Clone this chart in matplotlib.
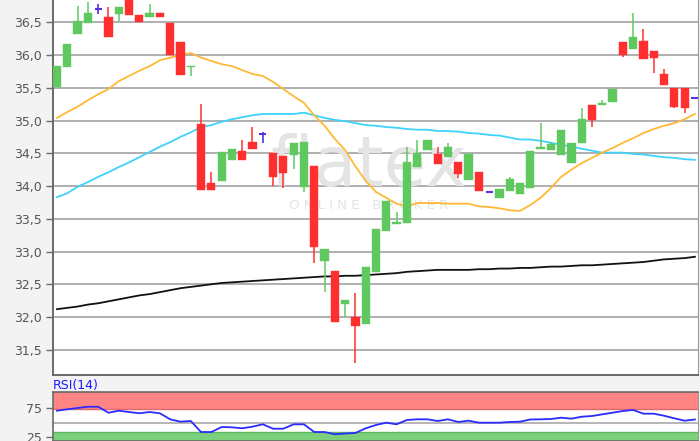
import numpy as np
import matplotlib
matplotlib.use("Agg")
import matplotlib.pyplot as plt


# ─────────────────────────────────────────────────────────────────────────────
#  DATA
# ─────────────────────────────────────────────────────────────────────────────

opens = [35.51, 35.82, 36.32, 36.49, 36.71, 36.58, 36.63, 36.90, 36.61, 36.58,
         36.64, 36.49, 36.20, 35.81, 34.95, 34.05, 34.08, 34.40, 34.53, 34.67,
         34.79, 34.50, 34.46, 34.47, 33.99, 34.30, 32.86, 32.70, 32.20, 32.00,
         31.89, 32.68, 33.32, 33.42, 33.43, 34.29, 34.55, 34.49, 34.44, 34.37,
         34.09, 34.21, 33.91, 33.82, 33.92, 33.88, 33.97, 34.57, 34.55, 34.47,
         34.35, 34.66, 35.24, 35.24, 35.28, 36.20, 36.09, 36.22, 36.06, 35.71,
         35.50, 35.50, 35.35]
highs = [35.83, 36.17, 36.75, 36.81, 36.78, 36.73, 36.73, 36.95, 36.61, 36.78,
         36.64, 36.49, 36.20, 35.82, 35.25, 34.22, 34.52, 34.57, 34.70, 34.90,
         34.83, 34.50, 34.46, 34.66, 34.67, 34.30, 33.04, 32.70, 32.26, 32.36,
         32.77, 33.35, 33.77, 33.60, 34.60, 34.70, 34.70, 34.60, 34.66, 34.37,
         34.49, 34.21, 33.91, 33.95, 34.14, 34.05, 34.54, 34.96, 34.67, 34.85,
         34.66, 35.19, 35.24, 35.31, 35.48, 36.20, 36.64, 36.40, 36.06, 35.79,
         35.50, 35.50, 35.35]
lows = [35.51, 35.82, 36.32, 36.49, 36.63, 36.28, 36.52, 36.61, 36.50, 36.58,
        36.58, 36.00, 35.70, 35.68, 33.94, 33.94, 34.08, 34.40, 34.40, 34.57,
        34.66, 34.00, 33.97, 34.26, 33.91, 32.83, 32.38, 31.92, 32.00, 31.30,
        31.89, 32.68, 33.32, 33.42, 33.43, 34.29, 34.55, 34.34, 34.44, 34.12,
        34.09, 33.92, 33.91, 33.82, 33.92, 33.88, 33.97, 34.57, 34.55, 34.47,
        34.35, 34.66, 34.90, 35.24, 35.28, 35.97, 36.09, 35.94, 35.72, 35.54,
        35.19, 35.11, 35.35]
closes = [35.83, 36.17, 36.52, 36.64, 36.71, 36.28, 36.73, 36.61, 36.50, 36.64,
          36.58, 36.00, 35.70, 35.82, 33.94, 33.94, 34.52, 34.57, 34.40, 34.57,
          34.79, 34.14, 34.20, 34.66, 34.67, 33.07, 33.04, 31.92, 32.26, 31.86,
          32.77, 33.35, 33.77, 33.44, 34.37, 34.50, 34.70, 34.34, 34.60, 34.18,
          34.49, 33.92, 33.91, 33.95, 34.11, 34.05, 34.54, 34.60, 34.64, 34.85,
          34.66, 35.02, 35.01, 35.27, 35.48, 36.00, 36.28, 35.94, 35.95, 35.54,
          35.21, 35.19, 35.35]

ma_short = [35.04, 35.13, 35.21, 35.31, 35.40, 35.48, 35.60, 35.68, 35.76, 35.83,
            35.92, 35.96, 36.00, 36.03, 35.96, 35.91, 35.86, 35.83, 35.77, 35.71,
            35.68, 35.59, 35.48, 35.37, 35.27, 35.08, 34.92, 34.72, 34.55, 34.30,
            34.08, 33.91, 33.82, 33.73, 33.69, 33.74, 33.74, 33.74, 33.73, 33.73,
            33.73, 33.69, 33.68, 33.66, 33.63, 33.62, 33.71, 33.82, 33.97, 34.14,
            34.25, 34.35, 34.43, 34.51, 34.58, 34.66, 34.73, 34.81, 34.87, 34.92,
            34.96, 35.02, 35.10]
ma_mid = [33.83, 33.89, 33.99, 34.06, 34.14, 34.21, 34.29, 34.36, 34.44, 34.52,
          34.60, 34.67, 34.75, 34.82, 34.90, 34.93, 34.98, 35.02, 35.05, 35.08,
          35.10, 35.10, 35.10, 35.10, 35.12, 35.08, 35.04, 35.01, 34.99, 34.96,
          34.93, 34.92, 34.90, 34.89, 34.87, 34.86, 34.86, 34.84, 34.84, 34.83,
          34.81, 34.80, 34.78, 34.77, 34.74, 34.71, 34.71, 34.69, 34.66, 34.63,
          34.60, 34.57, 34.54, 34.51, 34.51, 34.51, 34.49, 34.48, 34.46, 34.44,
          34.43, 34.41, 34.40]
ma_long = [32.12, 32.14, 32.16, 32.19, 32.21, 32.24, 32.27, 32.30, 32.33, 32.35,
           32.38, 32.41, 32.44, 32.46, 32.48, 32.50, 32.52, 32.53, 32.54, 32.55,
           32.56, 32.57, 32.58, 32.59, 32.60, 32.61, 32.62, 32.62, 32.63, 32.63,
           32.64, 32.65, 32.66, 32.67, 32.69, 32.70, 32.71, 32.72, 32.72, 32.72,
           32.72, 32.73, 32.73, 32.74, 32.74, 32.75, 32.75, 32.76, 32.77, 32.77,
           32.78, 32.79, 32.79, 32.80, 32.81, 32.82, 32.83, 32.84, 32.86, 32.88,
           32.89, 32.90, 32.92]

rsi = [70.3, 72.8, 75.0, 77.2, 77.2, 66.9, 70.3, 68.1, 65.9, 68.1,
       65.9, 55.5, 51.4, 52.6, 33.6, 33.6, 42.2, 41.7, 40.0, 42.8,
       46.9, 39.3, 39.3, 46.9, 46.9, 33.6, 33.6, 29.7, 31.0, 31.9,
       40.0, 45.7, 49.7, 46.9, 54.3, 55.5, 55.5, 52.6, 55.5, 50.9,
       53.1, 49.7, 49.7, 49.7, 50.9, 51.4, 55.2, 55.5, 56.0, 58.3,
       56.6, 60.0, 61.2, 64.1, 66.9, 69.8, 71.6, 65.2, 65.2, 61.7,
       57.2, 53.1, 55.2]

price_ticks = [31.5, 32.0, 32.5, 33.0, 33.5, 34.0, 34.5, 35.0, 35.5, 36.0, 36.5]
price_labels = ["31,5", "32,0", "32,5", "33,0", "33,5", "34,0",
                "34,5", "35,0", "35,5", "36,0", "36,5"]
rsi_ticks = [25, 75]
rsi_labels = ["25", "75"]


# ─────────────────────────────────────────────────────────────────────────────
#  STYLE
# ─────────────────────────────────────────────────────────────────────────────

UP     = "#5fc95f"
DOWN   = "#ff2f2f"
DOJI   = "#5a2ee0"
GRID   = "#a9a9a9"
SPINE  = "#6b6b6b"
LABEL  = "#555555"
BG     = "#f3f3f3"

fig = plt.figure(figsize=(7.0, 4.41), dpi=100, facecolor=BG)

ax  = fig.add_axes([53/700, 66/441, 645/700, 375/441])
axr = fig.add_axes([53/700, 0.0, 645/700, 49/441])

n = len(opens)
x = np.arange(n)


# ─────────────────────────────────────────────────────────────────────────────
#  PRICE PANEL
# ─────────────────────────────────────────────────────────────────────────────

for y in price_ticks:
    ax.axhline(y, color=GRID, linewidth=1.3, zorder=1)

# watermark
ax.text(0.49, 0.505, "flatex", transform=ax.transAxes,
        ha="center", va="baseline", fontsize=50, color="#e4e4e4", zorder=1)
ax.text(0.49, 0.452, "O N L I N E   B R O K E R", transform=ax.transAxes,
        ha="center", va="center", fontsize=9.5, color="#e4e4e4", zorder=1)

ax.plot(x, ma_long,  color="#111111", linewidth=1.3, zorder=2)
ax.plot(x, ma_mid,   color="#3fd2ff", linewidth=1.3, zorder=2)
ax.plot(x, ma_short, color="#ffb936", linewidth=1.3, zorder=2)

for i in range(n):
    o, h, l, c = opens[i], highs[i], lows[i], closes[i]

    if o == c:
        ax.vlines(i, l, h, color=DOJI, linewidth=1.2, zorder=4)
        ax.hlines(c, i - 0.34, i + 0.34, color=DOJI, linewidth=1.5, zorder=4)
        continue

    color = UP if c > o else DOWN
    ax.vlines(i, l, h, color=color, linewidth=1.1, zorder=3)
    ax.bar(i, max(abs(c - o), 0.025), bottom=min(o, c), width=0.8,
           color=color, edgecolor=color, linewidth=0.3, zorder=4)

ax.set_xlim(-0.39, n - 0.7)
ax.set_ylim(31.115, 36.84)
ax.set_xticks([])
ax.set_yticks(price_ticks)
ax.set_yticklabels(price_labels, fontsize=9, color=LABEL)
ax.tick_params(axis="y", length=5, width=1, color=SPINE, pad=3)

for side in ["left", "bottom"]:
    ax.spines[side].set_color(SPINE)
    ax.spines[side].set_linewidth(1.4)
ax.spines["right"].set_color("#9a9a9a")
ax.spines["top"].set_visible(False)


# ─────────────────────────────────────────────────────────────────────────────
#  RSI PANEL
# ─────────────────────────────────────────────────────────────────────────────

rsi_lo, rsi_hi = 18.1, 102.6

axr.axhspan(74.0, rsi_hi, facecolor="#ff8585", edgecolor="none", zorder=1)
axr.axhline(74.0, color="#e06a6a", linewidth=1.0, zorder=2)
axr.axhline(rsi_hi - 0.8, color="#d86060", linewidth=1.2, zorder=2)
axr.axhspan(rsi_lo, 33.5, facecolor="#7bd07b", edgecolor="none", zorder=1)
axr.axhline(33.5, color="#5cb85c", linewidth=1.0, zorder=2)
axr.axhline(50, color=GRID, linewidth=1.2, zorder=1)

axr.plot(x, rsi, color="#2b2bff", linewidth=1.3, zorder=3)

axr.set_xlim(-0.39, n - 0.7)
axr.set_ylim(rsi_lo, rsi_hi)
axr.set_xticks([])
axr.set_yticks(rsi_ticks)
axr.set_yticklabels(rsi_labels, fontsize=9, color=LABEL)
axr.tick_params(axis="y", length=5, width=1, color=SPINE, pad=3)

for side in ["left", "bottom", "top"]:
    axr.spines[side].set_color(SPINE)
    axr.spines[side].set_linewidth(1.2)
axr.spines["right"].set_color("#9a9a9a")

fig.text(53/700, 1 - 385/441, "RSI(14)", ha="left", va="center",
         fontsize=9, color="#1a1aff")

fig.savefig("out.png", dpi=100, facecolor=BG)
